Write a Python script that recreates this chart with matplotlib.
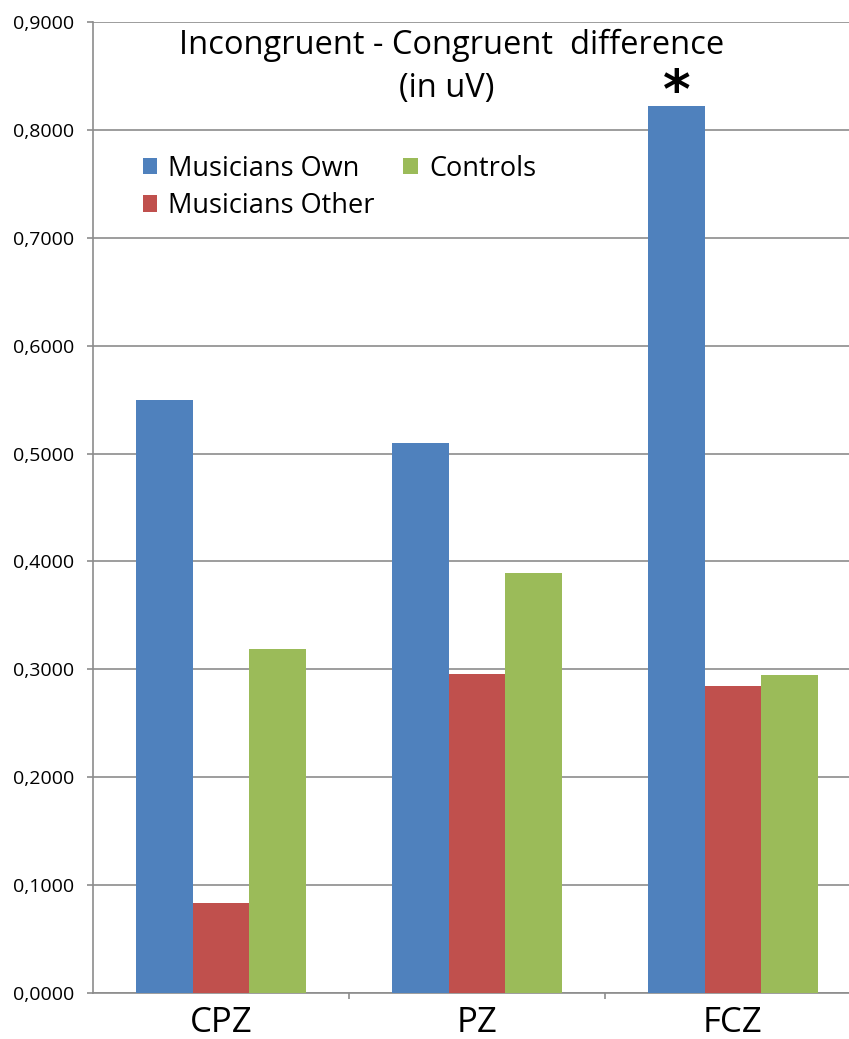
import matplotlib
import matplotlib.pyplot as plt
import numpy as np

matplotlib.use('Agg')

# data
electrodes = ["CPZ", "PZ", "FCZ"]
musicians_own = [0.550, 0.510, 0.822]
musicians_other = [0.083, 0.296, 0.285]
controls = [0.319, 0.389, 0.295]
series_names = ["Musicians Own", "Musicians Other", "Controls"]
colors = ["#4F81BD", "#C0504D", "#9BBB59"]
y_ticks = np.arange(0, 0.91, 0.1)

plt.rcParams['font.family'] = ['Open Sans', 'DejaVu Sans']

fig = plt.figure(figsize=(8.49, 10.39), dpi=100)
W, H = 849, 1039
# axes spans past the right edge of the figure, as in the reference
ax = fig.add_axes([93 / W, (H - 993) / H, (861 - 93) / W, (993 - 22) / H])

x = np.arange(len(electrodes))
width = 0.221
bars = []
for i, (vals, name, c) in enumerate(zip([musicians_own, musicians_other, controls], series_names, colors)):
    b = ax.bar(x + (i - 1) * width, vals, width, color=c, label=name, zorder=3)
    bars.append(b)

ax.set_xlim(-0.5, 2.5)
ax.set_ylim(0, 0.9)
ax.set_yticks(y_ticks)
ax.set_yticklabels([f"{v:.4f}".replace(".", ",") for v in y_ticks], fontsize=14)
ax.yaxis.grid(True, color="#8c8c8c", linewidth=1.2, zorder=0)
ax.set_axisbelow(True)

ax.set_xticks(x)
ax.set_xticklabels(electrodes, fontsize=25)
ax.set_xticks([0.5, 1.5], minor=True)
ax.tick_params(axis='x', which='major', length=0, pad=9)
ax.tick_params(axis='x', which='minor', length=4.5, color="#8c8c8c", width=1.2)
ax.tick_params(axis='y', length=4.5, color="#8c8c8c", width=1.2, pad=9)

for s in ["top", "right"]:
    ax.spines[s].set_visible(False)
for s in ["left", "bottom"]:
    ax.spines[s].set_color("#8c8c8c")
    ax.spines[s].set_linewidth(1.2)

# significance marker over FCZ musicians own
ax.text(x[2] - width, 0.834, "*", ha='center', va='center',
        fontsize=38, fontweight='bold', family='DejaVu Sans')

fig.text(452 / W, 1 - 45 / H, "Incongruent - Congruent  difference", ha='center', va='center', fontsize=23.5)
fig.text(447 / W, 1 - 88 / H, "(in uV)", ha='center', va='center', fontsize=23.5)

handles = [b[0] for b in bars]
leg = fig.legend(handles, series_names, ncol=2, loc='upper left',
                 bbox_to_anchor=(129 / W, 1 - 141 / H), frameon=False, fontsize=19.5,
                 handlelength=0.55, handleheight=0.55, handletextpad=0.4,
                 columnspacing=1.05, labelspacing=0.35, borderpad=0)

plt.savefig("out.png", dpi=100)
plt.close()
